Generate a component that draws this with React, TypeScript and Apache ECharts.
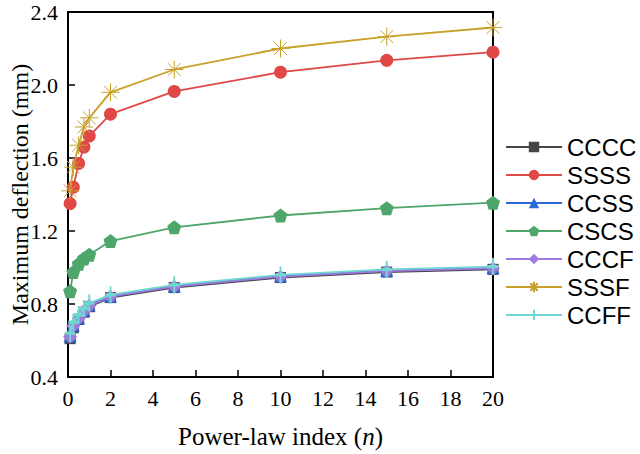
import React, { useEffect, useRef } from "react";
import * as echarts from "echarts";

const nValues = [0.1, 0.25, 0.5, 0.75, 1, 2, 5, 10, 15, 20];
const seriesNames = ["CCCC", "SSSS", "CCSS", "CSCS", "CCCF", "SSSF", "CCFF"];
const cccc = [0.61, 0.67, 0.715, 0.755, 0.785, 0.835, 0.89, 0.945, 0.975, 0.99];
const ssss = [1.35, 1.44, 1.57, 1.66, 1.72, 1.84, 1.965, 2.07, 2.135, 2.18];
const ccss = [0.625, 0.685, 0.725, 0.765, 0.795, 0.843, 0.898, 0.953, 0.983, 0.998];
const cscs = [0.87, 0.975, 1.02, 1.05, 1.07, 1.145, 1.22, 1.285, 1.325, 1.355];
const cccf = [0.62, 0.68, 0.72, 0.76, 0.79, 0.84, 0.895, 0.95, 0.98, 0.995];
const sssf = [1.42, 1.55, 1.67, 1.77, 1.82, 1.96, 2.085, 2.2, 2.265, 2.315];
const ccff = [0.64, 0.7, 0.74, 0.775, 0.805, 0.85, 0.905, 0.96, 0.99, 1.005];

const xTicks = { min: 0, max: 20, interval: 2 };
const yTicks = { min: 0.4, max: 2.4, interval: 0.4 };

const colors = ["#454545", "#e04848", "#2c68d8", "#4ea66a", "#a07ade", "#c8a02a", "#6fd8d0"];

const PENTAGON = "path://M0,-1L0.951,-0.309L0.588,0.809L-0.588,0.809L-0.951,-0.309Z";
const ASTERISK = "path://M0,-1L0,1M-1,0L1,0M-0.707,-0.707L0.707,0.707M-0.707,0.707L0.707,-0.707";
const PLUS = "path://M0,-1L0,1M-1,0L1,0";

export default function App() {
  const ref = useRef<HTMLDivElement>(null);
  useEffect(() => {
    document.body.style.margin = "0";
    if (!ref.current) return;
    const chart = echarts.init(ref.current, undefined, { renderer: "svg" });
    const allData = [cccc, ssss, ccss, cscs, cccf, sssf, ccff];
    const symbols: any[] = ["rect", "circle", "triangle", PENTAGON, "diamond", ASTERISK, PLUS];
    const sizes: any[] = [11, 13, 13, 14, 14, 18, [10, 17]];
    const series = seriesNames.map((name, i) => {
      const stroked = i === 5 || i === 6;
      return {
        name,
        type: "line",
        data: nValues.map((n, j) => [n, allData[i][j]]),
        symbol: symbols[i],
        symbolSize: sizes[i],
        lineStyle: { color: colors[i], width: 1.8 },
        itemStyle: stroked
          ? { color: colors[i], borderColor: colors[i], borderWidth: i === 6 ? 2.5 : 1 }
          : { color: colors[i], borderWidth: 0 },
        showAllSymbol: true,
        z: 2 + i,
      };
    });
    chart.setOption({
      animation: false,
      color: colors,
      grid: {
        left: 68,
        right: 147,
        top: 12,
        bottom: 77,
        containLabel: false,
        outerBoundsMode: "none",
        show: true,
        borderColor: "#000",
        borderWidth: 2,
        backgroundColor: "transparent",
      },
      legend: {
        orient: "vertical",
        left: 500,
        top: 130,
        itemWidth: 56,
        itemHeight: 13,
        itemGap: 4,
        textStyle: { fontFamily: "Liberation Sans", fontSize: 24, color: "#000" },
        data: seriesNames,
      },
      xAxis: {
        type: "value",
        min: xTicks.min,
        max: xTicks.max,
        interval: xTicks.interval,
        name: "Power-law index ({i|n})",
        nameLocation: "middle",
        nameGap: 47,
        nameMoveOverlap: false,
        nameTextStyle: {
          fontFamily: "Liberation Serif",
          fontSize: 25,
          color: "#000",
          rich: { i: { fontFamily: "Liberation Serif", fontSize: 25, fontStyle: "italic", color: "#000" } },
        },
        axisLine: { show: true, lineStyle: { color: "#000", width: 2 } },
        axisTick: { show: true, inside: true, length: 7, lineStyle: { color: "#000", width: 1.5 } },
        axisLabel: { fontFamily: "Liberation Serif", fontSize: 22, color: "#000", margin: 10 },
        splitLine: { show: false },
      },
      yAxis: {
        type: "value",
        min: yTicks.min,
        max: yTicks.max,
        interval: yTicks.interval,
        name: "Maximum deflection (mm)",
        nameLocation: "middle",
        nameGap: 36,
        nameMoveOverlap: false,
        nameTextStyle: { fontFamily: "Liberation Serif", fontSize: 24, color: "#000" },
        axisLine: { show: true, lineStyle: { color: "#000", width: 2 } },
        axisTick: { show: true, inside: true, length: 7, lineStyle: { color: "#000", width: 1.5 } },
        axisLabel: {
          fontFamily: "Liberation Serif",
          fontSize: 22,
          color: "#000",
          margin: 10,
          formatter: (v: number) => v.toFixed(1),
        },
        splitLine: { show: false },
      },
      series,
    });
    return () => chart.dispose();
  }, []);
  return <div ref={ref} style={{ width: 640, height: 454 }} />;
}
